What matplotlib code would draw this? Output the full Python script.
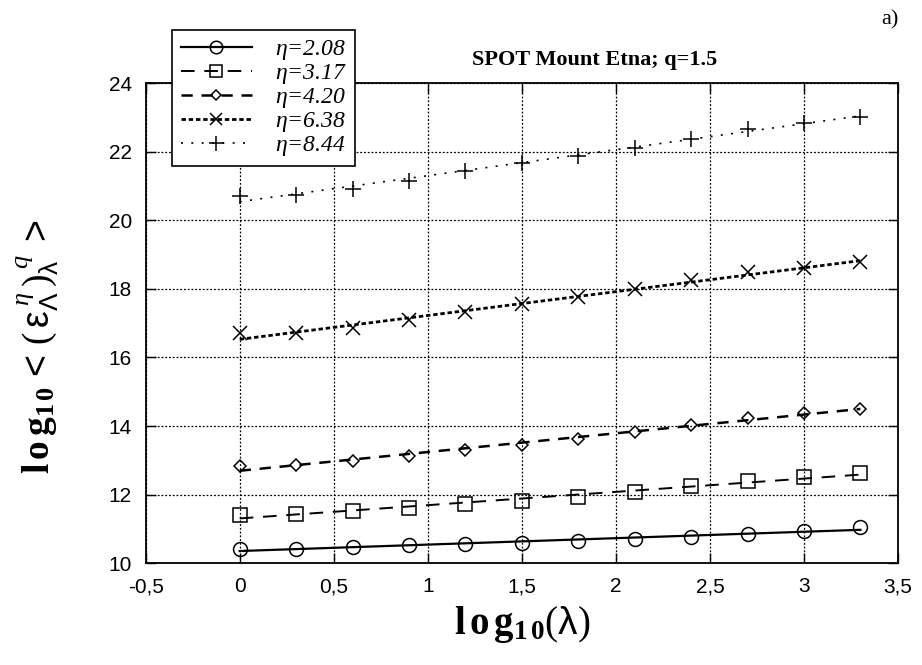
import numpy as np
import matplotlib
matplotlib.use("Agg")
import matplotlib.pyplot as plt
from matplotlib.ticker import FuncFormatter

plt.rcParams['font.family'] = ['Liberation Sans', 'DejaVu Sans']
plt.rcParams['mathtext.fontset'] = 'custom'
plt.rcParams['mathtext.rm'] = 'Liberation Serif'
plt.rcParams['mathtext.it'] = 'Liberation Serif:italic'
plt.rcParams['mathtext.bf'] = 'Liberation Serif:bold'
plt.rcParams['mathtext.sf'] = 'Liberation Sans'

# log10(lambda) scale points
log_lam = [0.0, 0.3, 0.6, 0.9, 1.2, 1.5, 1.8, 2.1, 2.4, 2.7, 3.0, 3.3]

eta_labels = ["2.08", "3.17", "4.20", "6.38", "8.44"]

eta_208 = [10.42, 10.43, 10.47, 10.52, 10.57, 10.60, 10.64, 10.70, 10.78, 10.86, 10.95, 11.05]
eta_317 = [11.42, 11.45, 11.53, 11.62, 11.72, 11.82, 11.93, 12.07, 12.25, 12.40, 12.52, 12.62]
eta_420 = [12.85, 12.87, 12.98, 13.13, 13.30, 13.45, 13.62, 13.82, 14.03, 14.25, 14.38, 14.50]
eta_638 = [16.70, 16.72, 16.85, 17.08, 17.32, 17.55, 17.75, 18.00, 18.25, 18.50, 18.62, 18.78]
eta_844 = [20.70, 20.75, 20.90, 21.15, 21.45, 21.68, 21.88, 22.12, 22.38, 22.65, 22.85, 23.02]

series = [eta_208, eta_317, eta_420, eta_638, eta_844]
markers = ['o', 's', 'D', 'x', '+']
msizes = [10, 10, 6, 10, 12]
styles = ['-', (0, (7, 5)), (0, (4.5, 3.5)), (0, (1.6, 1.0)), (0, (1.2, 5))]
widths = [1.6, 1.4, 1.8, 2.0, 1.2]

fig = plt.figure(figsize=(9.22, 6.65), dpi=100)
ax = fig.add_axes([0.158, 0.153, 0.816, 0.722])

x = np.array(log_lam)
for ys, lab, m, ms, ls, lw in zip(series, eta_labels, markers, msizes, styles, widths):
    ys = np.array(ys)
    # fitted straight line through the points
    k, b = np.polyfit(x, ys, 1)
    ax.plot(x, k * x + b, color='black', linestyle=ls, linewidth=lw)
    ax.plot(x, ys, linestyle='none', marker=m, markersize=ms, color='black',
            markerfacecolor='none', markeredgewidth=1.1)
    # proxy for legend
    ax.plot([], [], color='black', linestyle=ls, linewidth=lw, marker=m,
            markersize=ms * 0.9, markerfacecolor='none', markeredgewidth=1.1,
            label=r'$\eta$=' + lab)

ax.set_xlim(-0.5, 3.5)
ax.set_ylim(10, 24)
ax.set_xticks(np.arange(-0.5, 3.51, 0.5))
ax.set_yticks(np.arange(10, 24.1, 2))

def comma(v, pos):
    s = ('%g' % v)
    return s.replace('.', ',')

ax.xaxis.set_major_formatter(FuncFormatter(comma))
ax.tick_params(direction='in', length=7, width=1, top=True, right=True,
               labelsize=15, pad=10)
ax.grid(True, color='black', linestyle=(0, (1.5, 1.5)), linewidth=0.9)
for sp in ax.spines.values():
    sp.set_linewidth(1.3)

ax.set_xlabel(r'$\mathbf{l\,o\,g_{1\,0}}(\mathsf{\lambda})$', fontsize=28, labelpad=6)
ax.set_ylabel(r'$\mathbf{l\,o\,g_{1\,0}}\,\mathsf{<}\,(\,\mathsf{\varepsilon}_{\mathsf{\Lambda}}^{\;\eta}\,)_{\mathsf{\lambda}}^{\;q}\;\mathsf{>}$',
              fontsize=27)
ax.yaxis.set_label_coords(-0.112, 0.45)

fig.text(0.645, 0.91, 'SPOT Mount Etna; q=1.5', family='Liberation Serif',
         fontweight='bold', fontsize=16, ha='center', va='center')
fig.text(0.975, 0.97, 'a)', family='Liberation Serif', fontsize=16,
         ha='right', va='center')

leg = ax.legend(loc='upper left', bbox_to_anchor=(0.187, 0.955),
                bbox_transform=fig.transFigure, borderaxespad=0, frameon=True,
                fancybox=False, edgecolor='black', framealpha=1, handlelength=3.0,
                borderpad=0.35, labelspacing=0.0, handletextpad=1.0,
                prop={'family': 'Liberation Serif', 'style': 'italic', 'size': 17})
leg.get_frame().set_linewidth(1.2)

fig.savefig('out.png', dpi=100)
